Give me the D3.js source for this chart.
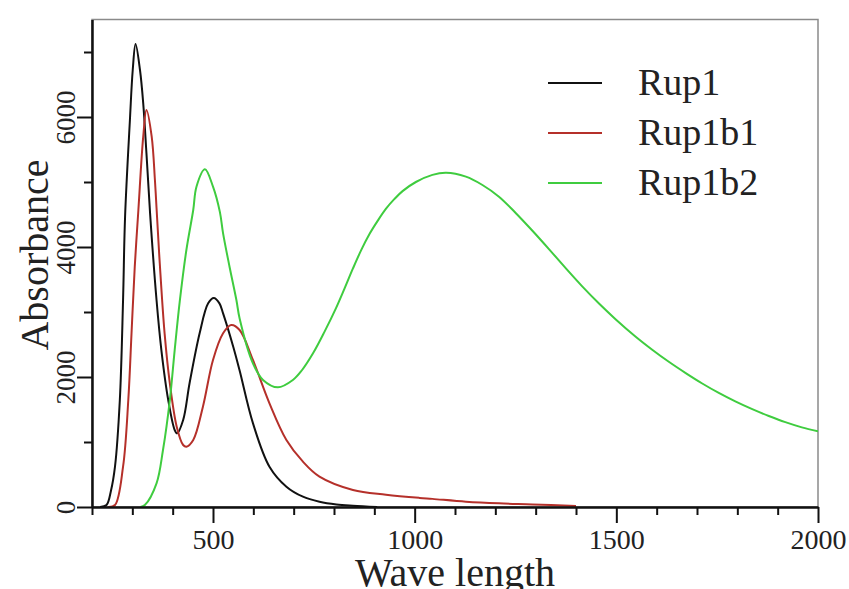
<!DOCTYPE html>
<html>
<head>
<meta charset="utf-8">
<script src="https://cdn.jsdelivr.net/npm/d3@7"></script>
<style>
  body { margin: 0; background: #fff; }
  svg { display: block; font-family: "Liberation Serif", "Times New Roman", serif; }
</style>
</head>
<body>
<svg id="chart" width="849" height="589"></svg>
<script>
// Rup1 (black)
const rup1X = [220, 236, 247, 257, 269, 277, 282, 294, 301, 308, 319, 327, 335, 344, 360, 372, 389, 405, 411, 426, 442, 467, 488, 502, 516, 525, 550, 566, 599, 640, 682, 723, 764, 806, 847, 907];
const rup1Y = [0, 30, 250, 620, 1646, 3185, 4466, 5954, 6723, 7123, 6723, 6210, 5441, 4518, 3185, 2415, 1646, 1185, 1133, 1338, 1908, 2677, 3133, 3215, 3133, 2979, 2470, 2100, 1290, 620, 313, 159, 82, 40, 20, 0];

// Rup1b1 (red)
const rup1b1X = [240, 257, 277, 290, 298, 306, 315, 327, 335, 348, 356, 360, 368, 380, 393, 410, 426, 434, 451, 475, 500, 525, 545, 566, 599, 640, 682, 723, 764, 847, 929, 1012, 1044, 1127, 1209, 1292, 1400];
const rup1b1Y = [0, 30, 620, 1646, 2672, 3697, 4569, 5697, 6108, 5697, 5030, 4600, 3750, 2672, 1903, 1236, 954, 928, 1031, 1543, 2262, 2672, 2800, 2723, 2262, 1595, 1031, 697, 467, 262, 190, 140, 125, 82, 56, 40, 15];

// Rup1b2 (green)
const rup1b2X = [320, 331, 360, 376, 393, 405, 418, 434, 451, 459, 480, 500, 517, 525, 541, 558, 566, 599, 624, 661, 698, 720, 748, 776, 805, 826, 847, 868, 888, 909, 929, 950, 970, 1003, 1044, 1078, 1127, 1168, 1209, 1251, 1292, 1334, 1375, 1416, 1457, 1498, 1548, 1589, 1631, 1672, 1713, 1754, 1795, 1837, 1878, 1919, 1960, 2000];
const rup1b2Y = [0, 30, 364, 877, 1646, 2415, 3185, 3954, 4569, 4928, 5195, 4928, 4540, 4210, 3697, 3185, 2900, 2210, 1954, 1841, 1954, 2100, 2364, 2690, 3060, 3360, 3670, 3960, 4200, 4410, 4590, 4740, 4860, 5000, 5110, 5143, 5082, 4954, 4774, 4520, 4250, 3960, 3670, 3390, 3130, 2890, 2620, 2420, 2230, 2060, 1900, 1755, 1625, 1505, 1400, 1305, 1225, 1165];

const seriesNames = ['Rup1', 'Rup1b1', 'Rup1b2'];
const seriesColors = ['#111111', '#b5302a', '#3fcc3f'];

const xMajor = [500, 1000, 1500, 2000];
const yMajor = [0, 2000, 4000, 6000];

const svg = d3.select('#chart');
const plotLeft = 92, plotRight = 818, plotTop = 19.5, plotBottom = 507;

const x = d3.scaleLinear().domain([200, 2000]).range([plotLeft, plotRight]);
const y = d3.scaleLinear().domain([0, 7500]).range([plotBottom, plotTop]);

// frame (top / right thin grey)
svg.append('rect')
  .attr('x', plotLeft).attr('y', plotTop)
  .attr('width', plotRight - plotLeft).attr('height', plotBottom - plotTop)
  .attr('fill', 'none').attr('stroke', '#8a8a8a').attr('stroke-width', 1.5);

svg.append('clipPath').attr('id', 'plot-clip')
  .append('rect')
  .attr('x', plotLeft).attr('y', plotTop)
  .attr('width', plotRight - plotLeft).attr('height', plotBottom - plotTop);

// curves
const line = d3.line()
  .x(d => x(d[0]))
  .y(d => y(d[1]))
  .curve(d3.curveCatmullRom.alpha(0.5));

const series = [
  d3.zip(rup1X, rup1Y),
  d3.zip(rup1b1X, rup1b1Y),
  d3.zip(rup1b2X, rup1b2Y)
];

svg.append('g')
  .attr('clip-path', 'url(#plot-clip)')
  .selectAll('path')
  .data(series)
  .join('path')
  .attr('d', line)
  .attr('fill', 'none')
  .attr('stroke', (d, i) => seriesColors[i])
  .attr('stroke-width', 2);

// minor ticks
const xMinor = d3.range(200, 2001, 100).filter(v => xMajor.indexOf(v) == -1);
const yMinor = d3.range(1000, 7001, 2000);

const xMinorAxis = svg.append('g')
  .attr('transform', `translate(0,${plotBottom})`)
  .call(d3.axisBottom(x).tickValues(xMinor).tickSize(8).tickFormat(''));
const yMinorAxis = svg.append('g')
  .attr('transform', `translate(${plotLeft},0)`)
  .call(d3.axisLeft(y).tickValues(yMinor).tickSize(8).tickFormat(''));
[xMinorAxis, yMinorAxis].forEach(a => a.select('.domain').remove());

// major axes
const xAxis = svg.append('g')
  .attr('transform', `translate(0,${plotBottom})`)
  .call(d3.axisBottom(x).tickValues(xMajor).tickSize(16).tickSizeOuter(0).tickFormat(d3.format('d')));
xAxis.selectAll('text')
  .attr('y', 42).attr('dy', null)
  .attr('font-size', 28)
  .attr('font-family', '"Liberation Serif", serif')
  .attr('fill', '#222');

const yAxis = svg.append('g')
  .attr('transform', `translate(${plotLeft},0)`)
  .call(d3.axisLeft(y).tickValues(yMajor).tickSize(15).tickSizeOuter(0).tickFormat(d3.format('d')));
yAxis.selectAll('text')
  .attr('transform', 'rotate(-90)')
  .attr('x', 0).attr('y', -17).attr('dy', null)
  .attr('text-anchor', 'middle')
  .attr('font-size', 27)
  .attr('font-family', '"Liberation Serif", serif')
  .attr('fill', '#222');

svg.selectAll('.tick line').attr('stroke', '#111').attr('stroke-width', 2);
xAxis.select('.domain').attr('stroke', '#111').attr('stroke-width', 2.5);
yAxis.select('.domain').attr('stroke', '#111').attr('stroke-width', 2.5);

// axis titles
svg.append('text')
  .attr('x', (plotLeft + plotRight) / 2).attr('y', 586)
  .attr('text-anchor', 'middle')
  .attr('font-size', 40)
  .attr('fill', '#222')
  .text('Wave length');

svg.append('text')
  .attr('transform', `translate(48,255) rotate(-90)`)
  .attr('text-anchor', 'middle')
  .attr('font-size', 40)
  .attr('fill', '#222')
  .text('Absorbance');

// legend
const legend = svg.append('g').selectAll('g')
  .data(seriesNames)
  .join('g')
  .attr('transform', (d, i) => `translate(548,${83 + i * 50})`);
legend.append('line')
  .attr('x1', 0).attr('x2', 54)
  .attr('stroke', (d, i) => seriesColors[i])
  .attr('stroke-width', 2);
legend.append('text')
  .attr('x', 90).attr('y', 12)
  .attr('font-size', 38)
  .attr('fill', '#222')
  .text(d => d);
</script>
</body>
</html>
